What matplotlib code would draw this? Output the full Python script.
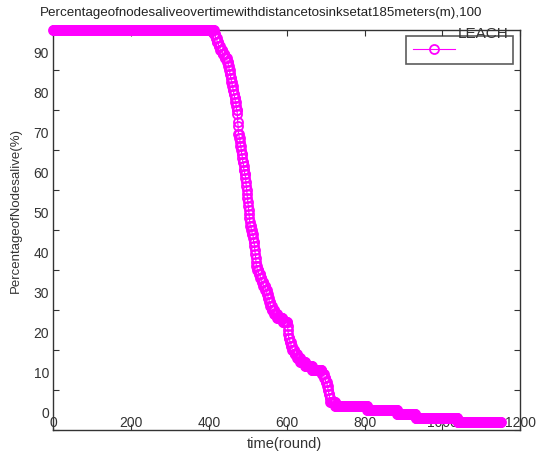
import matplotlib.pyplot as plt
import numpy as np
from matplotlib.transforms import ScaledTranslation

# rounds at which a node died (100 nodes in total)
death_rounds = [413, 417, 421, 425, 429, 435, 441, 447,
                450, 452, 454, 456, 458, 460,
                462, 464, 466, 468, 470, 471, 473,
                474, 474, 475, 476, 476,
                478, 480, 481, 483, 484, 486,
                487, 489, 490, 492, 494,
                495, 496, 497, 498, 499, 500,
                501, 502, 503, 504, 505, 506,
                509, 511, 514,
                515, 517, 518, 519, 520, 521, 522, 524,
                528, 532, 536, 540, 545,
                549, 552, 555, 558, 562,
                568, 576, 590,
                602, 603, 604, 605,
                608, 611, 614,
                620, 627, 635,
                648, 665,
                690, 696, 700, 704,
                706, 708, 710, 712,
                725, 807, 884, 931, 1039]
n_nodes = 100
last_round = 1150

xticks = [0, 200, 400, 600, 800, 1000, 1200]
yticks = [0, 10, 20, 30, 40, 50, 60, 70, 80, 90]

rounds = np.arange(0, last_round + 1)
dead = np.searchsorted(np.sort(death_rounds), rounds, side='right')
alive_pct = (n_nodes - dead) * 100.0 / n_nodes

plt.rcParams['font.family'] = ['Liberation Sans', 'DejaVu Sans']

fig = plt.figure(figsize=(5.37, 4.57), dpi=100)
ax = fig.add_axes([0.099, 0.059, 0.870, 0.875])

line, = ax.plot(rounds, alive_pct, color='#ff00ff', marker='o', markersize=6.5,
                markerfacecolor='none', markeredgewidth=1.3, linewidth=0.8,
                clip_on=False, zorder=3)

ax.set_xlim(0, 1200)
ax.set_ylim(0, 100)
ax.set_xticks(xticks)
ax.set_yticks(yticks)
ax.tick_params(direction='in', top=True, right=True, length=4, width=0.8,
               labelsize=10, colors='#333333', pad=3)

# tick labels sit a bit higher than their ticks in the original
shift = ScaledTranslation(0, 0.18, fig.dpi_scale_trans)
for lab in ax.get_xticklabels() + ax.get_yticklabels():
    lab.set_transform(lab.get_transform() + shift)

for sp in ax.spines.values():
    sp.set_color('#333333')
    sp.set_linewidth(1.0)

fig.text(0.487, 0.972, 'Percentageofnodesaliveovertimewithdistancetosinksetat185meters(m),100',
         ha='center', va='center', fontsize=9.6, color='#222222')

fig.text(0.53, 0.028, 'time(round)', ha='center', va='center', fontsize=10.5,
         color='#333333')
fig.text(0.030, 0.54, 'PercentageofNodesalive(%)', ha='center', va='center',
         rotation=90, fontsize=9.5, color='#333333')

leg = ax.legend([line], [''], loc='upper right', bbox_to_anchor=(0.985, 0.985),
                frameon=True, fancybox=False, edgecolor='#333333',
                handlelength=3.0, borderpad=0.5, handletextpad=3.7,
                borderaxespad=0, fontsize=10)
leg.get_frame().set_linewidth(1.2)
leg.set_zorder(5)
ax.text(0.975, 0.99, 'LEACH', transform=ax.transAxes, ha='right', va='center',
        fontsize=11, color='#333333', zorder=10)

fig.savefig('out.png', dpi=100)
